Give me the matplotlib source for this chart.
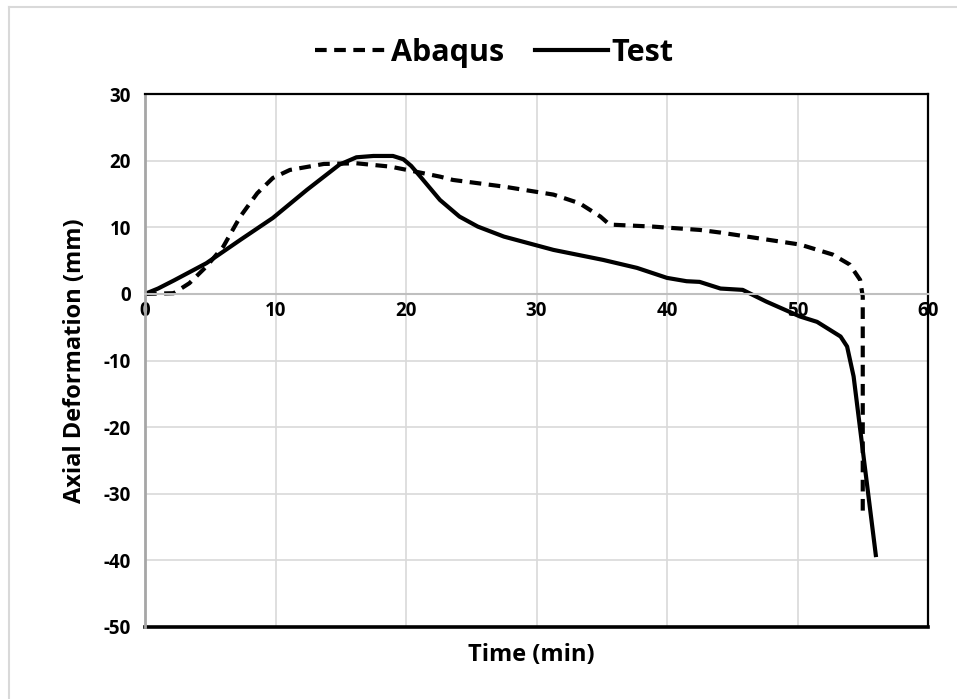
import matplotlib
matplotlib.use("Agg")
import matplotlib.pyplot as plt
from matplotlib.lines import Line2D

plt.rcParams['font.family'] = ['Open Sans', 'DejaVu Sans']
plt.rcParams['font.weight'] = 'bold'
plt.rcParams['axes.unicode_minus'] = False

# Abaqus (dashed)
abaqus_t = [0, 2.2, 3.4, 4.7, 6.0, 7.3, 8.6, 9.8, 11.1, 13.7, 16.2, 18.8, 20.6,
            22.6, 23.6, 27.5, 31.3, 33.3, 34.9, 35.6, 38.9, 42.5, 44.1, 50.2,
            52.7, 54.0, 54.8, 55.0, 55.0]
abaqus_d = [0, 0.1, 1.6, 4.1, 7.1, 11.6, 15.1, 17.4, 18.6, 19.5, 19.6, 19.1, 18.4,
            17.6, 17.1, 16.1, 14.9, 13.6, 11.6, 10.4, 10.1, 9.6, 9.2, 7.4,
            5.9, 4.4, 2.1, -0.4, -33.4]

# Test (solid)
test_t = [0, 1.0, 2.2, 4.7, 7.3, 9.8, 12.4, 14.9, 16.2, 17.5, 19.0, 19.8, 20.4, 21.1,
          22.6, 24.1, 25.5, 27.5, 31.3, 35.1, 37.7, 40.0, 41.5, 42.5, 44.1, 45.8,
          47.6, 50.2, 51.5, 53.3, 53.8, 54.3, 56.0]
test_d = [0, 0.8, 2.0, 4.6, 8.1, 11.4, 15.6, 19.4, 20.5, 20.7, 20.7, 20.2, 19.2, 17.6,
          14.1, 11.6, 10.1, 8.6, 6.6, 5.1, 3.9, 2.4, 1.9, 1.8, 0.8, 0.6,
          -1.15, -3.4, -4.2, -6.4, -7.9, -12.4, -39.2]

xticks = [0, 10, 20, 30, 40, 50, 60]
yticks = [30, 20, 10, 0, -10, -20, -30, -40, -50]

fig = plt.figure(figsize=(9.57, 6.99), dpi=100)
ax = fig.add_axes([145/957, 1-627/699, (928-145)/957, (627-94)/699])

# light chart border (top + left)
fig.add_artist(Line2D([9/957, 9/957], [0, 1-7/699], color='#d9d9d9', lw=1.5))
fig.add_artist(Line2D([9/957, 1], [1-7/699, 1-7/699], color='#d9d9d9', lw=1.5))

ax.plot(abaqus_t, abaqus_d, color='black', lw=3, ls=(0, (2.8, 1.8)), label='Abaqus')
ax.plot(test_t, test_d, color='black', lw=3, label='Test', solid_joinstyle='round')

ax.set_xlim(0, 60)
ax.set_ylim(-50, 30)
ax.set_xticks(xticks)
ax.set_yticks(yticks)
ax.grid(True, color='#d9d9d9', lw=1.2)
ax.set_axisbelow(True)

ax.spines['bottom'].set_position(('data', 0))
ax.spines['bottom'].set_color('#bfbfbf')
ax.spines['bottom'].set_linewidth(1.5)
ax.spines['left'].set_color('#a6a6a6')
ax.spines['left'].set_linewidth(2)
for s in ['top', 'right']:
    ax.spines[s].set_color('black')
    ax.spines[s].set_linewidth(1.6)
ax.add_line(Line2D([0, 1], [0, 0], transform=ax.transAxes, color='black', lw=2.6, clip_on=False))

ax.tick_params(axis='both', length=0, labelsize=13.5)
ax.tick_params(axis='x', pad=5)
ax.tick_params(axis='y', pad=10)
for lab in ax.get_xticklabels() + ax.get_yticklabels():
    lab.set_fontweight('bold')

ax.set_ylabel('Axial Deformation (mm)', fontsize=17, fontweight='bold', labelpad=12)
fig.text((145+928)/2/957 - 0.005, 1-655/699, 'Time (min)', ha='center', va='center',
         fontsize=17, fontweight='bold')

fig.legend(loc='center', bbox_to_anchor=(0.516, 1-53/699), ncol=2, frameon=False,
           prop={'size': 22, 'weight': 'bold'}, handlelength=2.4, handletextpad=0.1,
           columnspacing=1.0)

fig.savefig('out.png', dpi=100)
